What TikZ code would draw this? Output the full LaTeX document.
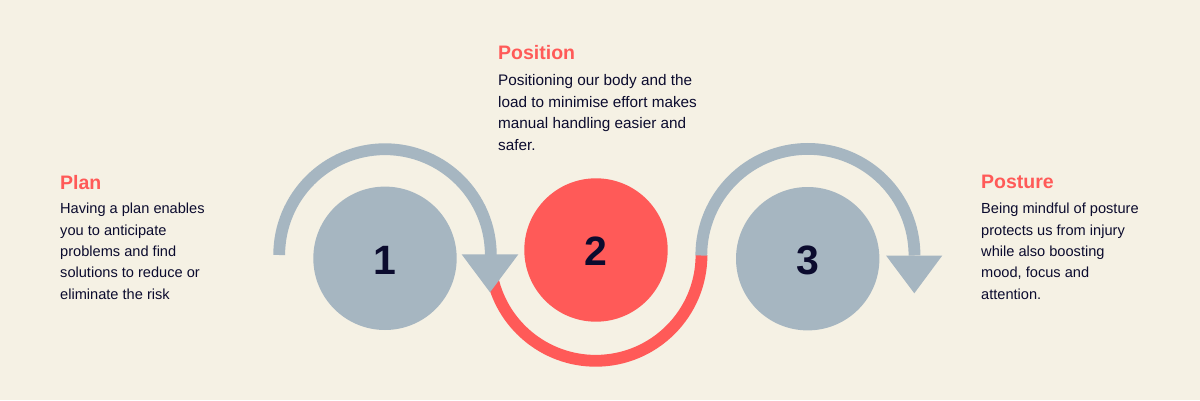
\documentclass[tikz,border=0pt]{standalone}
\usepackage{fontspec}
\setmainfont{Liberation Sans}
\usetikzlibrary{positioning}
\definecolor{paper}{HTML}{F5F1E4}
\definecolor{steel}{HTML}{A6B6C1}
\definecolor{coral}{HTML}{FF5A58}
\definecolor{ink}{HTML}{0B0B2E}
\tikzset{
  disc/.style={circle, fill=#1, minimum size=143.4pt, inner sep=0pt, text=ink,
    text height=31.4pt, text depth=0pt, font=\fontsize{41}{41}\selectfont\bfseries},
  ring/.style={draw=#1, line width=11.8pt},
  title/.style={anchor=north west, inner sep=0pt, text=coral, font=\fontsize{19.5}{24}\selectfont\bfseries},
  body/.style={anchor=north west, inner sep=0pt, align=left, text=ink, font=\fontsize{14.6}{21.3}\selectfont},
  bodylarge/.style={body, font=\fontsize{15.3}{21.6}\selectfont}
}
\begin{document}
\begin{tikzpicture}[x=1pt,y=1pt]
\fill[paper] (0,0) rectangle (1200,400);
\useasboundingbox (0,0) rectangle (1200,400);
% draw circles
\node[disc=steel] (one) at (385,141.7) {1};
\node[disc=coral] (two) at (596,150) {2};
\node[disc=steel] (three) at (807.7,141.3) {3};
% red arc goes under the first arrow
\coordinate (C2) at (701.5,145);
\draw[ring=coral] (C2) arc [start angle=0, end angle=-170, radius=105.8];
% first arrow
\coordinate (S1) at (279.2,145);
\draw[ring=steel] (S1) arc [start angle=180, end angle=0, radius=105.8];
\coordinate (L1) at (461.7,145.6);
\coordinate (R1) at (518.3,145.6);
\coordinate (T1) at (490,107.7);
\fill[steel] (L1) -- (R1) -- (T1) -- cycle;
% third arrow
\coordinate (S3) at (701.3,144.5);
\draw[ring=steel] (S3) arc [start angle=180, end angle=0, radius=106.6];
\coordinate (L3) at (886,144.5);
\coordinate (R3) at (942.3,144.5);
\coordinate (T3) at (914.3,106.7);
\fill[steel] (L3) -- (R3) -- (T3) -- cycle;
% labels
\node[title] (plan) at (60,225) {Plan};
\node[body] (plantext) at (60,196.8) {Having a plan enables\\you to anticipate\\problems and find\\solutions to reduce or\\eliminate the risk};
\node[title] (position) at (498,355) {Position};
\node[bodylarge] (positiontext) at (498,325.5) {Positioning our body and the\\load to minimise effort makes\\manual handling easier and\\safer.};
\node[title] (posture) at (981,225) {Posture};
\node[body] (posturetext) at (981,196.8) {Being mindful of posture\\protects us from injury\\while also boosting\\mood, focus and\\attention.};
\end{tikzpicture}
\end{document}
